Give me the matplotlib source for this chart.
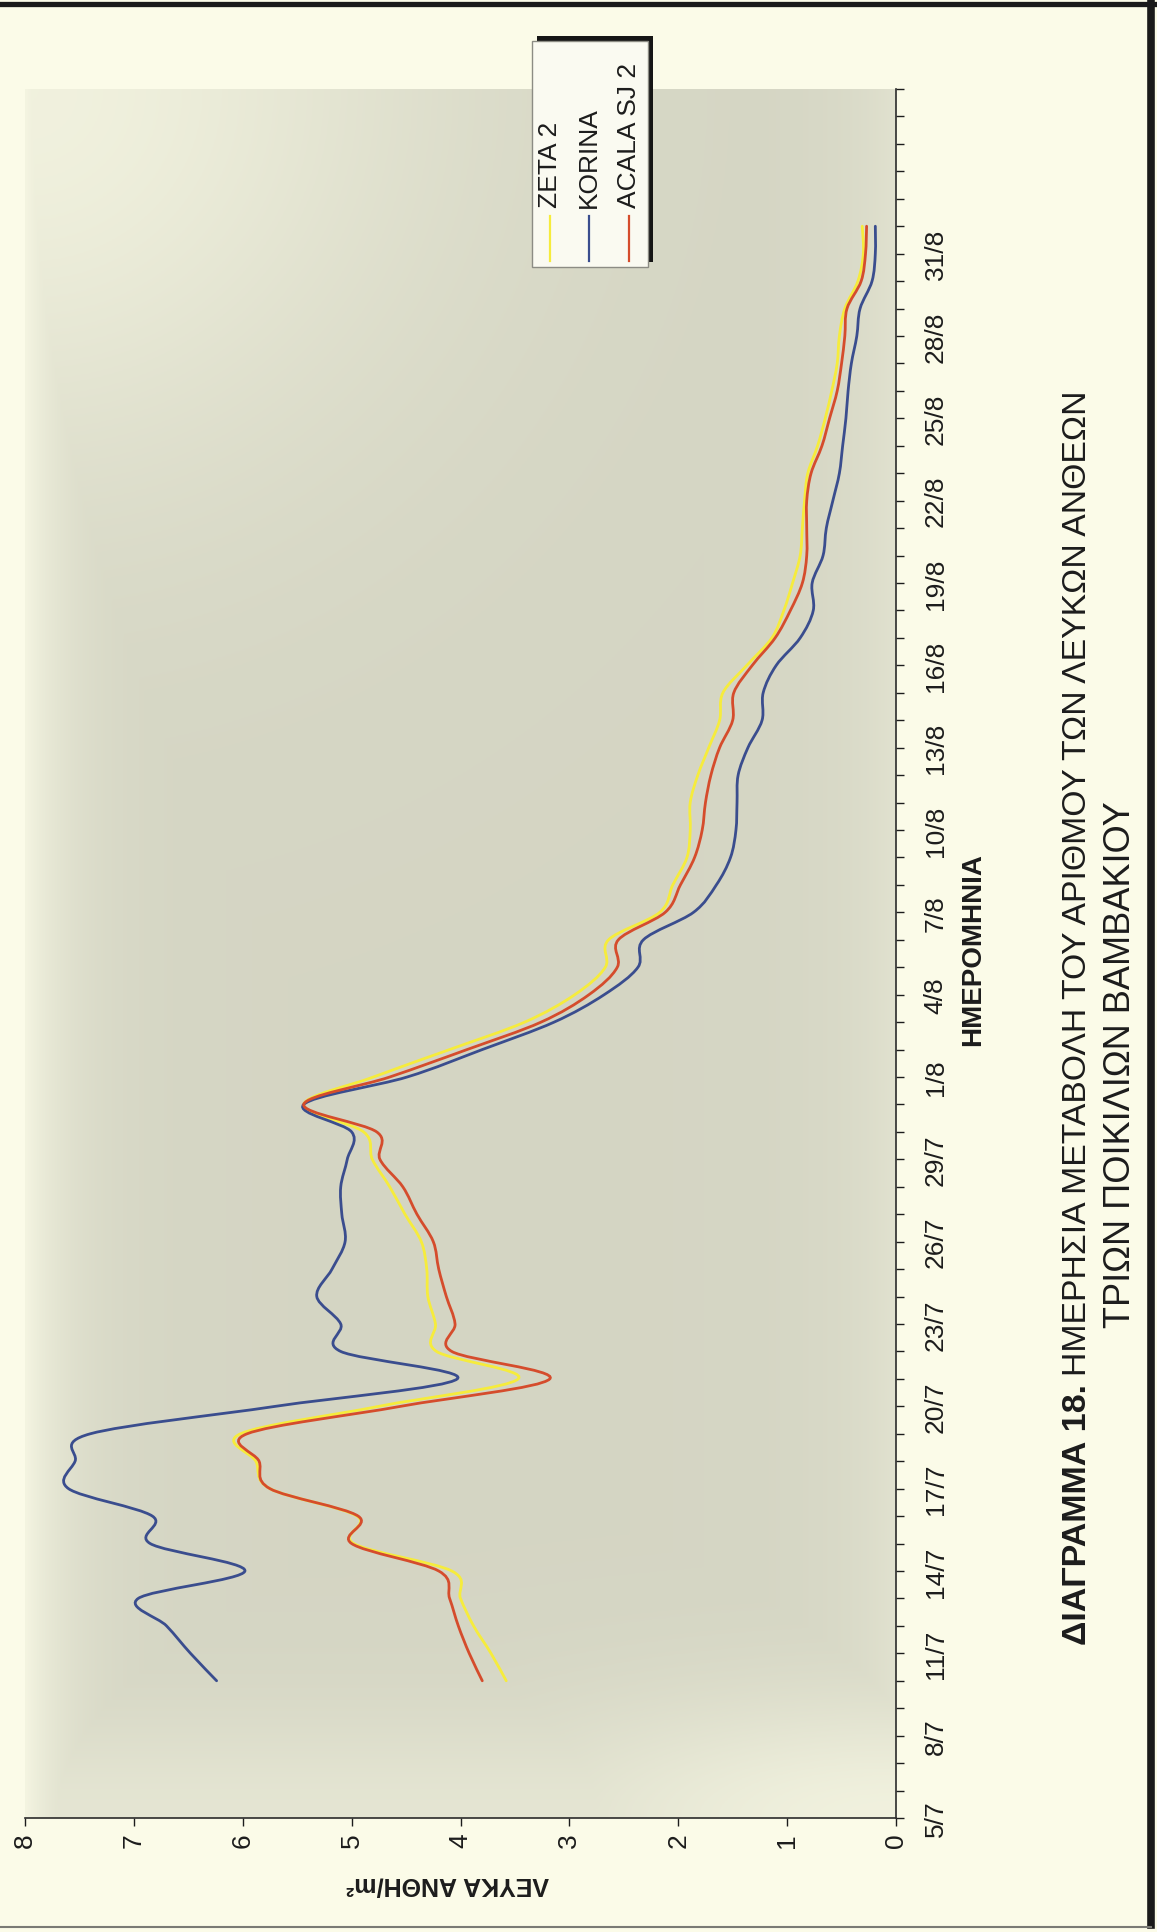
import numpy as np
import matplotlib
matplotlib.use("Agg")
import matplotlib.pyplot as plt
from matplotlib.path import Path
from matplotlib.patches import PathPatch, Rectangle
from matplotlib.lines import Line2D

W, H, DPI = 1157, 1933, 100

# daily counts, days counted from 5 July (10/7 .. 1/9)
day = np.arange(5, 59)

zeta2 = [3.58, 3.72, 3.88, 4.00, 4.08, 4.98, 4.95, 5.75, 5.88, 6.02,
         4.75, 3.47, 4.22, 4.23, 4.30, 4.31, 4.36, 4.51, 4.65, 4.81,
         4.89, 5.44, 4.80, 4.10, 3.41, 2.95, 2.67, 2.64, 2.17, 2.05,
         1.92, 1.89, 1.89, 1.82, 1.72, 1.62, 1.59, 1.37, 1.14, 1.03,
         0.95, 0.88, 0.86, 0.84, 0.81, 0.72, 0.65, 0.59, 0.54, 0.52,
         0.47, 0.35, 0.30, 0.31]
korina = [6.24, 6.48, 6.70, 6.96, 5.98, 6.85, 6.83, 7.60, 7.54, 7.40,
          5.70, 4.03, 5.10, 5.10, 5.32, 5.18, 5.06, 5.09, 5.10, 5.04,
          5.00, 5.44, 4.49, 3.80, 3.14, 2.68, 2.37, 2.32, 1.86, 1.65,
          1.52, 1.47, 1.46, 1.45, 1.36, 1.23, 1.22, 1.10, 0.88, 0.76,
          0.77, 0.67, 0.64, 0.58, 0.52, 0.49, 0.46, 0.44, 0.41, 0.36,
          0.33, 0.22, 0.19, 0.19]
acala_sj2 = [3.80, 3.92, 4.02, 4.10, 4.20, 5.00, 4.94, 5.75, 5.85, 5.96,
             4.55, 3.18, 4.08, 4.05, 4.13, 4.20, 4.25, 4.40, 4.53, 4.74,
             4.77, 5.44, 4.65, 3.94, 3.26, 2.82, 2.56, 2.55, 2.12, 1.98,
             1.85, 1.78, 1.75, 1.70, 1.62, 1.50, 1.49, 1.32, 1.11, 0.97,
             0.86, 0.82, 0.82, 0.82, 0.78, 0.68, 0.61, 0.54, 0.50, 0.47,
             0.45, 0.32, 0.28, 0.27]

series_names = ["ZETA 2", "KORINA", "ACALA SJ 2"]
series_values = [zeta2, korina, acala_sj2]
series_colors = ["#f6ec3c", "#3a4d8e", "#d54c2c"]

date_ticks = np.arange(0, 58, 3)
date_labels = ["5/7", "8/7", "11/7", "14/7", "17/7", "20/7", "23/7", "26/7",
               "29/7", "1/8", "4/8", "7/8", "10/8", "13/8", "16/8", "19/8",
               "22/8", "25/8", "28/8", "31/8"]
value_ticks = list(range(0, 9))

plt.rcParams["font.family"] = ["Liberation Sans", "DejaVu Sans"]

INK = "#1c1c1c"


def px(x, y):
    # pixel position measured from the top-left corner -> figure fraction
    return x / W, 1 - y / H


def smooth_path(xs, ys):
    # Catmull-Rom style bezier through the daily points (spreadsheet "smoothed line")
    pts = np.column_stack([xs, ys]).astype(float)
    n = len(pts)
    verts, codes = [pts[0]], [Path.MOVETO]
    for i in range(n - 1):
        p0, p1 = pts[max(i - 1, 0)], pts[i]
        p2, p3 = pts[i + 1], pts[min(i + 2, n - 1)]
        verts += [p1 + (p2 - p0) / 6, p2 - (p3 - p1) / 6, p2]
        codes += [Path.CURVE4] * 3
    return Path(verts, codes)


fig = plt.figure(figsize=(W / DPI, H / DPI), dpi=DPI, facecolor="#fbfbe8")
ax = fig.add_axes([25 / W, 1 - 1819 / H, 871 / W, 1729 / H])

# shaded plot area, lighter towards the left edge and the corners
u = np.linspace(0, 1, 300)
t = np.linspace(0, 1, 600)
U, T = np.meshgrid(u, t)
w = np.maximum.reduce([
    0.9 * np.exp(-U / 0.05),
    0.8 * np.exp(-((U / 0.45) ** 2 + ((1 - T) / 0.22) ** 2)),
    0.8 * np.exp(-(((1 - U) / 0.45) ** 2 + (T / 0.07) ** 2)),
    0.45 * np.exp(-(T / 0.06) ** 2),
    0.35 * np.exp(-((1 - U) / 0.06)),
])
gray = np.array([0.835, 0.838, 0.768])
cream = np.array([0.970, 0.972, 0.895])
bg = gray * (1 - w[..., None]) + cream * w[..., None]
ax.imshow(bg, extent=(8, 0, 0, 63), origin="lower", aspect="auto", zorder=0)

for vals, col in zip(series_values, series_colors):
    ax.add_patch(PathPatch(smooth_path(vals, day), facecolor="none",
                           edgecolor=col, lw=2.0, zorder=3, capstyle="round"))

ax.set_xlim(8, 0)
ax.set_ylim(0, 63)

for side in ("left", "top"):
    ax.spines[side].set_visible(False)
for side in ("bottom", "right"):
    ax.spines[side].set_color("#2b2b2b")
    ax.spines[side].set_linewidth(1.2)

ax.set_xticks(value_ticks)
ax.set_xticklabels([str(v) for v in value_ticks], rotation=90, fontsize=19)
ax.tick_params(axis="x", direction="out", length=6, width=1, pad=4, colors=INK)

ax.yaxis.tick_right()
ax.set_yticks(date_ticks)
ax.set_yticklabels(date_labels, rotation=90, va="center", fontsize=19)
ax.set_yticks(np.arange(0, 64), minor=True)
ax.tick_params(axis="y", which="both", direction="out", length=6, width=1,
               colors=INK)
ax.tick_params(axis="y", which="major", pad=14)

fig.text(*px(448, 1885), "ΛΕΥΚΑ ΑΝΘΗ/m²", rotation=180, ha="center", va="center",
         fontsize=18, fontweight="bold", color=INK)
fig.text(*px(973, 950), "ΗΜΕΡΟΜΗΝΙΑ", rotation=90, ha="center", va="center",
         fontsize=20, fontweight="bold", color=INK)

# caption: bold label followed by the regular text on the same line
t1 = fig.text(*px(1078, 1645), "ΔΙΑΓΡΑΜΜΑ 18.", rotation=90, ha="center", va="bottom",
              fontsize=24.5, fontweight="bold", color=INK)
fig.canvas.draw()
bb = t1.get_window_extent()
fig.text(1078 / W, (bb.y1 + 8) / H,
         "ΗΜΕΡΗΣΙΑ ΜΕΤΑΒΟΛΗ ΤΟΥ ΑΡΙΘΜΟΥ ΤΩΝ ΛΕΥΚΩΝ ΑΝΘΕΩΝ",
         rotation=90, ha="center", va="bottom", fontsize=24.3, color=INK)
fig.text(*px(1121, 1065), "ΤΡΙΩΝ ΠΟΙΚΙΛΙΩΝ ΒΑΜΒΑΚΙΟΥ", rotation=90, ha="center",
         va="center", fontsize=26, color=INK)

# legend box with its drop shadow
fig.add_artist(Rectangle(px(537, 263), 116 / W, 226 / H, transform=fig.transFigure,
                         facecolor="#151515", edgecolor="none", zorder=5))
fig.add_artist(Rectangle(px(532, 268), 116 / W, 226 / H, transform=fig.transFigure,
                         facecolor="#fafaf1", edgecolor="#8c8c84", lw=1, zorder=6))
for name, col, x in zip(series_names, series_colors, [550, 589, 629]):
    fig.add_artist(Line2D([x / W, x / W], [1 - 217 / H, 1 - 262 / H],
                          transform=fig.transFigure, color=col, lw=1.6, zorder=7))
    fig.text(*px(x, 208), name, rotation=90, ha="center", va="bottom",
             fontsize=19, color=INK, zorder=7)

# page frame
fig.add_artist(Line2D([0, 1], [1 - 5 / H, 1 - 5 / H], transform=fig.transFigure,
                      color="#1a1a1a", lw=3.8))
fig.add_artist(Line2D([1151 / W, 1151 / W], [1, 1 - 1926 / H], transform=fig.transFigure,
                      color="#1a1a1a", lw=5.5))
fig.add_artist(Line2D([0, 1151 / W], [1 - 1928 / H, 1 - 1928 / H], transform=fig.transFigure,
                      color="#7a7a74", lw=1.5))

fig.savefig("out.png", dpi=DPI, facecolor=fig.get_facecolor())
